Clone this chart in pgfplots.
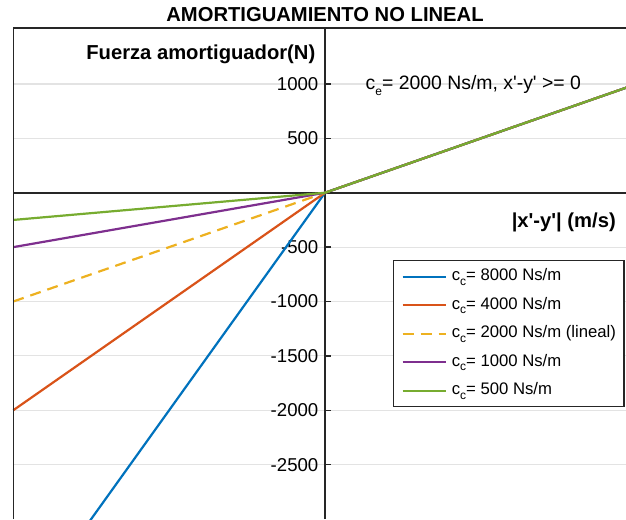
\documentclass[border=0pt]{standalone}
\usepackage{pgfplots}
\pgfplotsset{compat=1.18}
\usepackage{fontspec}
\setmainfont{Liberation Sans}

\definecolor{mblue}{rgb}{0,0.447,0.741}
\definecolor{morange}{rgb}{0.850,0.325,0.098}
\definecolor{myellow}{rgb}{0.929,0.694,0.125}
\definecolor{mpurple}{rgb}{0.494,0.184,0.556}
\definecolor{mgreen}{rgb}{0.466,0.674,0.188}
\colorlet{axcol}{black!85}

\newcommand{\sub}[1]{\raisebox{-0.5ex}{\fontsize{12}{12}\selectfont #1}}
\newcommand{\q}{\textquotesingle}
\newcommand{\tickfont}{\fontsize{18.6}{21}\selectfont}
\newcommand{\legfont}{\fontsize{16.7}{19}\selectfont}
\newcommand{\annfont}{\fontsize{19.4}{22}\selectfont}
\newcommand{\labfont}{\bfseries\fontsize{20.2}{23}\selectfont}

\begin{document}
\begin{tikzpicture}[x=1pt,y=1pt]
\useasboundingbox (0,0) rectangle (626,519);
\clip (0,0) rectangle (626,519);
\begin{axis}[
  at={(13.3pt,0pt)}, anchor=south west,
  scale only axis, width=623.4pt, height=491pt,
  xmin=-0.5, xmax=0.5, ymin=-3000, ymax=1515,
  clip=false,
  axis lines=middle,
  axis line style={-, line width=1.6pt, axcol},
  xtick=\empty,
  ytick={-2500,-2000,-1500,-1000,-500,500,1000},
  yticklabels={-2500,-2000,-1500,-1000,-500,500,1000},
  yticklabel style={font=\tickfont, anchor=east, inner sep=0pt, xshift=-6.5pt},
  ymajorgrids,
  major grid style={line width=1.2pt, black!11},
  tick style={line width=1.4pt, axcol},
  major tick length=6pt, tick align=inside,
  legend style={at={(rel axis cs:0.609,0.5275)}, anchor=north west,
    draw=axcol, line width=1.3pt, font=\legfont,
    inner xsep=8pt, inner ysep=7pt,
    nodes={inner sep=0pt, text height=13pt, text depth=5pt},
    row sep=10.5pt},
  legend cell align=left,
  legend image code/.code={\draw[#1] (0pt,0pt) -- (43pt,0pt); \path (48pt,0pt);},
  every axis plot/.append style={line width=2.2pt},
]
% each damper: compression slope c_c for x'-y'<0, extension slope c_e=2000 for x'-y'>=0
\addplot[mblue]   coordinates {(-0.5,-4000) (0,0) (0.5,1000)};
\addlegendentry{c\sub{c}= 8000 Ns/m}
\addplot[morange] coordinates {(-0.5,-2000) (0,0) (0.5,1000)};
\addlegendentry{c\sub{c}= 4000 Ns/m}
\addplot[myellow, dash pattern=on 11pt off 7pt] coordinates {(-0.5,-1000) (0,0) (0.5,1000)};
\addlegendentry{c\sub{c}= 2000 Ns/m (lineal)}
\addplot[mpurple] coordinates {(-0.5,-500) (0,0) (0.5,1000)};
\addlegendentry{c\sub{c}= 1000 Ns/m}
\addplot[mgreen]  coordinates {(-0.5,-250) (0,0) (0.5,1000)};
\addlegendentry{c\sub{c}= 500 Ns/m}

\coordinate (bl) at (rel axis cs:0,0);
\coordinate (tl) at (rel axis cs:0,1);
\coordinate (tr) at (rel axis cs:1,1);
\coordinate (tt) at (rel axis cs:0.5,1);
\coordinate (yl) at (axis cs:0,1221);
\coordinate (xl) at (axis cs:0.4667,-316);
\coordinate (an) at (axis cs:0.065,945);
\end{axis}
\draw[line width=1.6pt, axcol] (bl) -- (tl) -- (tr);
\node[anchor=base, inner sep=0pt, font=\labfont] at ([yshift=6pt]tt) {AMORTIGUAMIENTO NO LINEAL};
\node[anchor=base east, inner sep=0pt, font=\labfont] at ([xshift=-9.5pt]yl) {Fuerza amortiguador(N)};
\node[anchor=base east, inner sep=0pt, font=\labfont] at (xl) {|x\q-y\q| (m/s)};
\node[anchor=base west, inner sep=0pt, font=\annfont] at (an) {c\sub{e}= 2000 Ns/m, x\q-y\q{} >= 0};
\end{tikzpicture}
\end{document}
